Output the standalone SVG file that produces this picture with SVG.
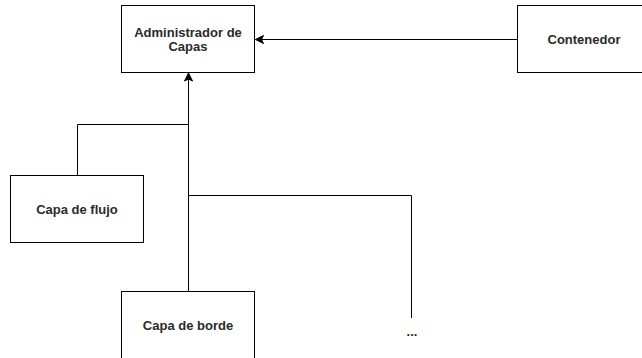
<svg xmlns="http://www.w3.org/2000/svg" width="642" height="358" viewBox="0 0 642 358">
  <style>
    .box { fill: #ffffff; stroke: #000000; stroke-width: 1; }
    .lbl { font-family: "Liberation Sans", Arial, sans-serif; font-size: 13px; font-weight: bold; fill: #2a2a2a; text-anchor: middle; }
    .edge { fill: none; stroke: #000000; stroke-width: 1; }
  </style>
  <defs>
    <marker id="arrow" markerUnits="userSpaceOnUse" markerWidth="10" markerHeight="10" viewBox="0 0 10 10" refX="9" refY="5" orient="auto">
      <path d="M1,1 L9,5 L1,9 L3,5 z" fill="#000000" stroke="#000000" stroke-width="1"/>
    </marker>
  </defs>
  <rect width="642" height="358" fill="#ffffff"/>

  <g id="connectors">
    <path class="edge" d="M517.5 39.5 H255.5" marker-end="url(#arrow)"/>
    <path class="edge" d="M188.5 291.5 V73" marker-end="url(#arrow)"/>
    <path class="edge" d="M77.5 175.5 V124.5 H188.5"/>
    <path class="edge" d="M188.5 195.5 H411.5 V318"/>
  </g>

  <g id="administrador">
    <rect class="box" x="121.5" y="5.5" width="133" height="67"/>
    <text class="lbl" x="188" y="37">Administrador de</text>
    <text class="lbl" x="188" y="51">Capas</text>
  </g>

  <g id="contenedor">
    <rect class="box" x="517.5" y="5.5" width="133" height="67"/>
    <text class="lbl" x="584" y="44">Contenedor</text>
  </g>

  <g id="capa-flujo">
    <rect class="box" x="10.5" y="175.5" width="133" height="67"/>
    <text class="lbl" x="77" y="214">Capa de flujo</text>
  </g>

  <g id="capa-borde">
    <rect class="box" x="121.5" y="291.5" width="133" height="67"/>
    <text class="lbl" x="188" y="330">Capa de borde</text>
  </g>

  <g id="mas">
    <text class="lbl" x="412" y="336">...</text>
  </g>
</svg>
